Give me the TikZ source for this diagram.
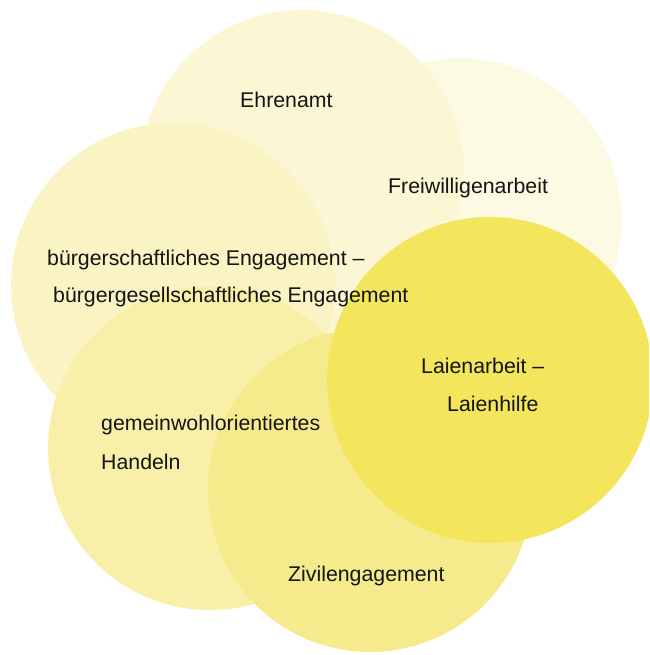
\documentclass[tikz,border=0pt]{standalone}
\usepackage{fontspec}
\setmainfont{Liberation Sans}
\definecolor{cF}{HTML}{FCFAE3}
\definecolor{cE}{HTML}{FBF7D5}
\definecolor{cB}{HTML}{FAF3C3}
\definecolor{cG}{HTML}{F8EFA8}
\definecolor{cZ}{HTML}{F6EB8C}
\definecolor{cL}{HTML}{F3E65C}
\begin{document}
\begin{tikzpicture}[x=1pt,y=-1pt,
  lbl/.style={font=\fontsize{21.3}{25}\selectfont, text=black!92, inner sep=0pt, anchor=west}]
\useasboundingbox (0,0) rectangle (649,655);
\clip (0,0) rectangle (649,655);
\fill[cF] (460,220) circle[radius=162pt];
\fill[cE] (302,172) circle[radius=162pt];
\fill[cB] (173,285) circle[radius=162pt];
\fill[cG] (210,448) circle[radius=162pt];
\fill[cZ] (370,490) circle[radius=162pt];
\fill[cL] (490,380) circle[radius=163pt];
\node[lbl] (ehren) at (240,100) {Ehrenamt};
\node[lbl] (frei) at (388,188) {Freiwilligenarbeit};
\node[lbl] (buerg1) at (47,260) {bürgerschaftliches Engagement –};
\node[lbl] (buerg2) at (53,297) {bürgergesellschaftliches Engagement};
\node[lbl] (laien1) at (421,366) {Laienarbeit –};
\node[lbl] (laien2) at (447,404) {Laienhilfe};
\node[lbl] (gemein1) at (101,425) {gemeinwohlorientiertes};
\node[lbl] (gemein2) at (101,462) {Handeln};
\node[lbl] (zivil) at (288,576) {Zivilengagement};
\end{tikzpicture}
\end{document}
